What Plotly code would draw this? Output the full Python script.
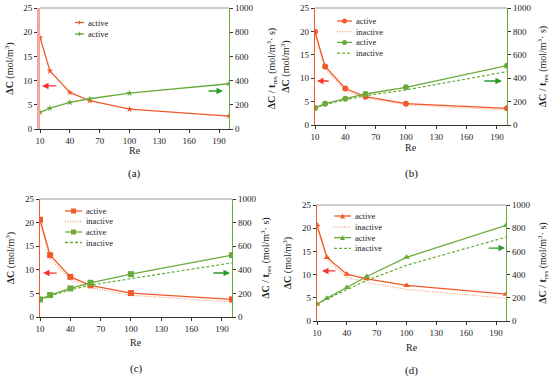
import plotly.graph_objects as go

re_vals = [10, 20, 40, 60, 100, 200]
x_ticks = [10, 40, 70, 100, 130, 160, 190]

a_dc_active = [18.9, 12.0, 7.55, 5.84, 4.12, 2.68]
a_rate_active = [137, 173, 220, 250, 297, 374]

b_dc_active = [19.9, 12.5, 7.8, 6.05, 4.56, 3.56]
b_dc_inactive = [19.5, 12.0, 7.4, 5.8, 4.3, 3.2]
b_rate_active = [145, 182, 225, 265, 322, 507]
b_rate_inactive = [145, 175, 215, 250, 300, 456]

c_dc_active = [20.6, 13.1, 8.5, 6.7, 5.07, 3.73]
c_dc_inactive = [20.0, 12.3, 7.9, 6.2, 4.6, 3.2]
c_rate_active = [149, 186, 242, 290, 363, 524]
c_rate_inactive = [145, 178, 230, 270, 325, 459]

d_dc_active = [20.7, 13.7, 10.1, 9.1, 7.66, 5.78]
d_dc_inactive = [20.3, 13.3, 9.4, 8.3, 6.8, 4.9]
d_rate_active = [145, 197, 289, 384, 549, 824]
d_rate_inactive = [145, 190, 270, 350, 480, 723]

captions = ["(a)", "(b)", "(c)", "(d)"]
legend_labels = ["active", "inactive", "active", "inactive"]

W, H = 550, 376
RED = "#f05a28"
RED_LIGHT = "#f5a07a"
GREEN = "#6aaa3a"
FONT = "Liberation Serif"

def px(x):
    return x / W

def py(y):
    return 1 - y / H

# panel geometry in pixels: (x0, x1, ytop, ybottom, re_title_y, caption_y)
panels = [
    (40, 229, 8, 129, 150.5, 173),
    (315, 507, 8, 125, 147.5, 173),
    (40, 232, 199, 317, 342, 368),
    (317, 506, 205, 321, 347, 370),
]
right_standoff = [15, 8, 6, 10]
symbols = ["star", "circle", "square", "triangle-up"]
data = [
    (a_dc_active, None, a_rate_active, None),
    (b_dc_active, b_dc_inactive, b_rate_active, b_rate_inactive),
    (c_dc_active, c_dc_inactive, c_rate_active, c_rate_inactive),
    (d_dc_active, d_dc_inactive, d_rate_active, d_rate_inactive),
]
arrows = [
    ((12, 28, 8.9), (194, 178, 314)),
    ((12, 25, 9.4), (195, 176, 376)),
    ((13, 28, 9.3), (198, 180, 373)),
    ((15, 30, 10.8), (199, 181, 629)),
]
# legend geometry: line x0, x1, first row y, row spacing
legend_geo = [
    (75, 84, 22.5, 11.5),
    (337, 352, 21, 10.7),
    (65, 82, 211, 10.5),
    (334, 351, 216, 10.8),
]

fig = go.Figure()
shapes = []
annotations = []
layout = {}

for i, (x0, x1, yt, yb, ret, capy) in enumerate(panels):
    n = i + 1
    xa = "xaxis" if n == 1 else f"xaxis{n}"
    xr = "x" if n == 1 else f"x{n}"
    yl_n = 2 * i + 1
    yr_n = 2 * i + 2
    yla = "yaxis" if yl_n == 1 else f"yaxis{yl_n}"
    ylr = "y" if yl_n == 1 else f"y{yl_n}"
    yra = f"yaxis{yr_n}"
    yrr = f"y{yr_n}"
    dom_x = [px(x0), px(x1)]
    dom_y = [py(yb), py(yt)]
    tickfont = dict(family=FONT, size=9, color="#222")
    layout[xa] = dict(domain=dom_x, anchor=ylr, range=[10, 200], tickvals=x_ticks,
                      showline=True, linecolor="#333", linewidth=1, ticks="outside",
                      ticklen=3, tickcolor="#333", showgrid=False, zeroline=False,
                      tickfont=tickfont, automargin=False)
    left_color = "#f4a3a3" if i == 0 else RED
    left_width = 3 if i == 0 else 1.2
    layout[yla] = dict(domain=dom_y, anchor=xr, range=[0, 25], dtick=5,
                       showline=True, linecolor=left_color, linewidth=left_width,
                       ticks="outside", ticklen=3, tickcolor="#333", showgrid=False,
                       zeroline=False, tickfont=tickfont, automargin=False,
                       title=dict(text="<b>ΔC</b> (mol/m<sup>3</sup>)",
                                  font=dict(family=FONT, size=10, color="#222"), standoff=8))
    layout[yra] = dict(overlaying=ylr, anchor=xr, side="right", range=[0, 1000], dtick=200,
                       showline=True, linecolor=GREEN, linewidth=1.2,
                       ticks="outside", ticklen=3, tickcolor="#333", showgrid=False,
                       zeroline=False, tickfont=tickfont, automargin=False,
                       title=dict(text="<b>ΔC / t</b><sub>res</sub> (mol/m<sup>3</sup>· s)",
                                  font=dict(family=FONT, size=10, color="#222"),
                                  standoff=right_standoff[i]))
    dc_a, dc_i, r_a, r_i = data[i]
    sym = symbols[i]
    msize = 5 if i == 0 else 6
    if dc_i is not None:
        fig.add_trace(go.Scatter(x=re_vals, y=dc_i, xaxis=xr, yaxis=ylr, mode="lines",
                                 line=dict(color=RED_LIGHT, width=1.2, dash="1px,1.5px"),
                                 showlegend=False))
    fig.add_trace(go.Scatter(x=re_vals, y=dc_a, xaxis=xr, yaxis=ylr, mode="lines+markers",
                             line=dict(color=RED, width=1.3),
                             marker=dict(symbol=sym, size=msize, color=RED), showlegend=False))
    if r_i is not None:
        fig.add_trace(go.Scatter(x=re_vals, y=r_i, xaxis=xr, yaxis=yrr, mode="lines",
                                 line=dict(color=GREEN, width=1.2, dash="3px,2px"),
                                 showlegend=False))
    fig.add_trace(go.Scatter(x=re_vals, y=r_a, xaxis=xr, yaxis=yrr, mode="lines+markers",
                             line=dict(color=GREEN, width=1.3),
                             marker=dict(symbol=sym, size=msize, color=GREEN), showlegend=False))

    # top border
    shapes.append(dict(type="line", xref="paper", yref="paper", x0=px(x0), x1=px(x1),
                       y0=py(yt), y1=py(yt), line=dict(color="#999", width=1)))
    # Re title & caption
    annotations.append(dict(text="Re", x=px((x0 + x1) / 2), y=py(ret), xref="paper", yref="paper",
                            xanchor="center", yanchor="middle",
                            showarrow=False, font=dict(family=FONT, size=10, color="#222")))
    annotations.append(dict(text=captions[i], x=px((x0 + x1) / 2), y=py(capy), xref="paper",
                            yref="paper", xanchor="center", yanchor="middle", showarrow=False,
                            font=dict(family=FONT, size=11, color="#111")))
    # arrows
    (rh, rt, ry), (gh, gt, gy) = arrows[i]
    annotations.append(dict(x=rh, y=ry, ax=rt, ay=ry, xref=xr, yref=ylr, axref=xr, ayref=ylr,
                            text="", showarrow=True, arrowhead=2, arrowsize=1, arrowwidth=1.3,
                            arrowcolor="#ff3030"))
    annotations.append(dict(x=gh, y=gy, ax=gt, ay=gy, xref=xr, yref=yrr, axref=xr, ayref=yrr,
                            text="", showarrow=True, arrowhead=2, arrowsize=1, arrowwidth=1.3,
                            arrowcolor="#2a9a2a"))
    # legend (manual)
    lx0, lx1, ly0, lsp = legend_geo[i]
    if i == 0:
        entries = [(RED, "solid", True, "active"), (GREEN, "solid", True, "active")]
    else:
        entries = [(RED, "solid", True, legend_labels[0]), (RED_LIGHT, "1px,1.5px", False, legend_labels[1]),
                   (GREEN, "solid", True, legend_labels[2]), (GREEN, "3px,2px", False, legend_labels[3])]
    for k, (col, dash, mk, lab) in enumerate(entries):
        yy = ly0 + k * lsp
        shapes.append(dict(type="line", xref="paper", yref="paper", x0=px(lx0), x1=px(lx1),
                           y0=py(yy), y1=py(yy), line=dict(color=col, width=1.3, dash=dash)))
        if mk:
            cx = (lx0 + lx1) / 2
            s = 2.5
            common = dict(xref="paper", yref="paper", xsizemode="pixel", ysizemode="pixel",
                          xanchor=px(cx), yanchor=py(yy), fillcolor=col, line=dict(width=0))
            if sym == "circle":
                shapes.append(dict(type="circle", x0=-s, x1=s, y0=-s, y1=s, **common))
            elif sym == "square":
                shapes.append(dict(type="rect", x0=-s, x1=s, y0=-s, y1=s, **common))
            elif sym == "triangle-up":
                shapes.append(dict(type="path", path=f"M{-s},{-s} L{s},{-s} L0,{s} Z", **common))
            else:
                shapes.append(dict(type="path",
                                   path="M0,2.5 L0.7,0.7 L2.5,0 L0.7,-0.7 L0,-2.5 L-0.7,-0.7 L-2.5,0 L-0.7,0.7 Z",
                                   **common))
        annotations.append(dict(text=lab, x=px(lx1 + 2), y=py(yy), xref="paper", yref="paper",
                                xanchor="left", yanchor="middle", showarrow=False,
                                font=dict(family=FONT, size=8.5, color="#222")))

fig.update_layout(width=W, height=H, margin=dict(l=0, r=0, t=0, b=0),
                  paper_bgcolor="white", plot_bgcolor="white", showlegend=False,
                  shapes=shapes, annotations=annotations, **layout)
fig.write_html("out.html", config={"displayModeBar": False},
               post_script="document.body.style.margin='0';document.body.style.padding='0';")
